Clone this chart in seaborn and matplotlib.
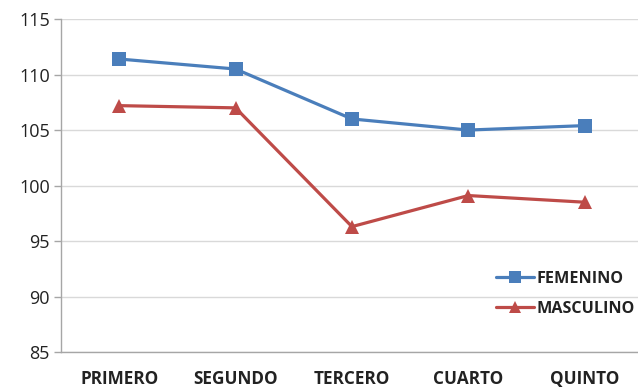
import matplotlib

matplotlib.use("Agg")
import matplotlib.pyplot as plt
import pandas as pd
import seaborn as sns
from matplotlib.lines import Line2D

# datos
grados = ["PRIMERO", "SEGUNDO", "TERCERO", "CUARTO", "QUINTO"]
femenino = [111.4, 110.5, 106.0, 105.0, 105.4]
masculino = [107.2, 107.0, 96.3, 99.1, 98.5]
y_ticks = [85, 90, 95, 100, 105, 110, 115]

azul = "#4A7EBB"
rojo = "#BE4B48"
gris = "#A6A6A6"

sns.set_style("white")
plt.rcParams["font.family"] = ["Open Sans", "DejaVu Sans"]

df = pd.DataFrame(
    {
        "grado": grados * 2,
        "valor": femenino + masculino,
        "sexo": ["FEMENINO"] * len(grados) + ["MASCULINO"] * len(grados),
    }
)
df["pos"] = list(range(len(grados))) * 2

fig = plt.figure(figsize=(6.38, 3.89), dpi=100)
ax = fig.add_axes([0.0956, 0.095, 0.912, 0.856])

sns.lineplot(
    data=df,
    x="pos",
    y="valor",
    hue="sexo",
    style="sexo",
    markers={"FEMENINO": "s", "MASCULINO": "^"},
    dashes=False,
    palette={"FEMENINO": azul, "MASCULINO": rojo},
    linewidth=2.3,
    markersize=9.5,
    markeredgewidth=0,
    sort=False,
    legend=False,
    ax=ax,
)

ax.set_xlim(-0.5, len(grados) - 0.5)
ax.set_ylim(85, 115)
ax.set_yticks(y_ticks)
ax.set_yticklabels([str(v) for v in y_ticks], fontsize=13, color="#222222")
ax.yaxis.grid(True, color="#D9D9D9", linewidth=1.0)
ax.set_axisbelow(True)

# etiquetas de categoría centradas, marcas entre categorías
ax.set_xticks(range(len(grados)))
ax.set_xticklabels(grados, fontsize=12.3, fontweight="bold", color="#222222")
ax.set_xticks([i - 0.5 for i in range(len(grados) + 1)], minor=True)
ax.tick_params(axis="x", which="major", length=0, pad=13)
ax.tick_params(axis="x", which="minor", length=5, color=gris, width=1)
ax.tick_params(axis="y", which="major", length=5, color=gris, width=1, left=True, pad=3)

for lado in ["top", "right"]:
    ax.spines[lado].set_visible(False)
for lado in ["left", "bottom"]:
    ax.spines[lado].set_color(gris)
    ax.spines[lado].set_linewidth(1.0)

ax.set_xlabel("")
ax.set_ylabel("")

handles = [
    Line2D([0], [0], color=azul, marker="s", markersize=8, linewidth=2.3, markeredgewidth=0),
    Line2D([0], [0], color=rojo, marker="^", markersize=8, linewidth=2.3, markeredgewidth=0),
]
leg = fig.legend(
    handles,
    ["FEMENINO", "MASCULINO"],
    loc="center left",
    bbox_to_anchor=(0.772, 0.245),
    frameon=False,
    handlelength=2.4,
    handletextpad=0.12,
    labelspacing=0.85,
    borderaxespad=0,
    borderpad=0.2,
    prop={"size": 11.6, "weight": "bold"},
)
for t in leg.get_texts():
    t.set_color("#222222")

fig.savefig("out.png", dpi=100)
